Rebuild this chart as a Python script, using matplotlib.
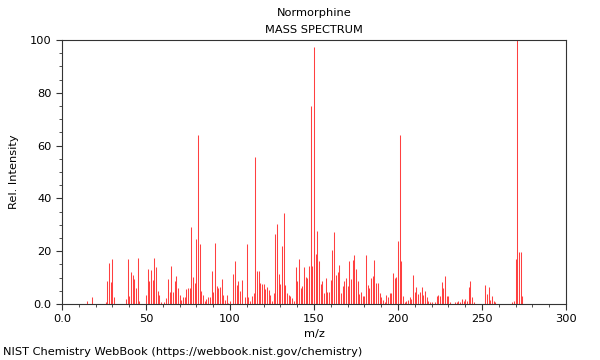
import matplotlib
matplotlib.use("Agg")
import matplotlib.pyplot as plt
from matplotlib.ticker import MultipleLocator

# m/z and relative intensity
mz = [15, 18, 26, 27, 28, 29, 30, 31,
      38, 39, 40, 41, 42, 43, 44, 45, 46,
      50, 51, 52, 53, 54, 55, 56, 57, 58, 59,
      61, 62, 63, 64, 65, 66, 67, 68, 69, 70,
      71, 72, 73, 74, 75, 76, 77, 78, 79, 80,
      81, 82, 83, 84, 85, 86, 87, 88, 89, 90,
      91, 92, 93, 94, 95, 96, 97, 98, 99, 100,
      102, 103, 104, 105, 106, 107, 109, 110, 111, 112,
      113, 114, 115, 116, 117, 118, 119, 120, 121, 122,
      123, 124, 125, 126, 127, 128, 129, 130, 131, 132,
      133, 134, 135, 136, 137, 138, 139, 140, 141, 142,
      143, 144, 145, 146, 147, 148, 149, 150, 151, 152,
      153, 154, 155, 156, 157, 158, 159, 160, 161, 162,
      163, 164, 165, 166, 167, 168, 169, 170, 171, 172,
      173, 174, 175, 176, 177, 178, 179, 180, 181, 182,
      183, 184, 185, 186, 187, 188, 189, 190, 191, 192,
      193, 194, 195, 196, 197, 198, 199, 200, 201, 202,
      203, 204, 205, 206, 207, 208, 209, 210, 211, 212,
      213, 214, 215, 216, 217, 218, 219, 220, 222, 223,
      224, 225, 226, 227, 228, 229, 230, 231, 234, 235,
      236, 237, 238, 239, 240, 241, 242, 243, 244, 245,
      252, 253, 254, 255, 256, 257, 258,
      268, 269, 270, 271, 272, 273, 274]
intensity = [1.0, 2.8, 0.6, 8.8, 15.7, 8.5, 17.0, 2.5,
             1.8, 17.2, 2.9, 12.2, 11.1, 9.5, 6.2, 17.5, 1.3,
             3.4, 13.3, 8.6, 13.0, 9.0, 17.5, 14.1, 5.0, 3.4, 0.6,
             0.6, 2.1, 9.5, 4.7, 14.5, 4.4, 8.8, 10.6, 5.9, 3.5,
             1.5, 2.5, 2.5, 5.6, 6.0, 6.2, 29.0, 10.4, 8.1, 24.5,
             63.9, 22.7, 5.0, 3.5, 1.0, 1.8, 2.5, 2.5, 12.4, 4.4,
             23.1, 6.8, 5.9, 6.3, 9.5, 3.3, 1.5, 3.3, 0.5, 1.3,
             11.4, 16.4, 7.2, 8.6, 5.0, 9.2, 2.5, 22.7, 2.5, 1.3,
             2.9, 4.3, 55.8, 12.6, 12.4, 7.8, 7.6, 7.6, 5.7, 6.3,
             5.3, 3.4, 1.3, 4.2, 26.5, 30.3, 11.4, 7.6, 22.1, 34.3,
             7.2, 4.0, 3.4, 2.9, 2.1, 1.3, 13.9, 8.6, 17.0, 6.0,
             7.0, 14.1, 10.1, 9.7, 14.5, 75.1, 14.5, 97.5, 18.9, 27.8,
             16.4, 7.6, 8.6, 4.3, 9.8, 4.7, 4.7, 9.2, 20.5, 27.4,
             11.0, 12.2, 14.8, 4.3, 6.9, 8.8, 9.8, 6.9, 16.2, 9.5,
             16.7, 18.7, 13.3, 8.6, 3.8, 4.5, 3.0, 3.2, 18.6, 7.3,
             5.9, 10.0, 10.7, 16.7, 7.8, 7.8, 4.3, 2.5, 1.5, 0.6,
             3.5, 2.5, 4.3, 4.3, 11.7, 9.7, 10.4, 23.7, 64.0, 16.2,
             3.0, 0.6, 1.0, 1.5, 2.8, 1.8, 11.0, 4.7, 6.3, 3.8,
             4.4, 6.6, 3.5, 5.0, 2.8, 1.3, 0.6, 0.6, 0.6, 2.9,
             3.5, 3.2, 8.5, 5.9, 10.7, 3.2, 3.0, 0.6, 0.6, 0.6,
             1.3, 0.6, 1.9, 1.0, 1.9, 1.3, 6.3, 8.8, 2.5, 0.6,
             7.3, 3.8, 6.6, 1.5, 3.0, 1.0, 0.6,
             0.6, 1.3, 16.9, 100.0, 19.6, 19.6, 3.2]

fig = plt.figure(figsize=(6, 3.6), dpi=100)
ax = fig.add_axes([62/600, 1-304/360, 504/600, 264/360])

ax.vlines(mz, 0, intensity, color="#ff4040", linewidth=0.75)

ax.set_xlim(0, 300)
ax.set_ylim(0, 100)
ax.xaxis.set_minor_locator(MultipleLocator(10))
ax.yaxis.set_minor_locator(MultipleLocator(5))
ax.set_xticks([0, 50, 100, 150, 200, 250, 300])
ax.set_xticklabels(["0.0", "50", "100", "150", "200", "250", "300"])
ax.set_yticks([0, 20, 40, 60, 80, 100])
ax.set_yticklabels(["0.0", "20", "40", "60", "80", "100"])
ax.tick_params(which="major", length=4, width=0.8, labelsize=8.2, color="#333333")
ax.tick_params(which="minor", length=2, width=0.6, color="#333333")
for s in ax.spines.values():
    s.set_linewidth(0.8)
    s.set_color("#333333")

ax.set_xlabel("m/z", fontsize=8.2, labelpad=3)
ax.set_ylabel("Rel. Intensity", fontsize=8.2, labelpad=8)

fig.text(314/600, 1-13/360, "Normorphine", ha="center", va="center", fontsize=8.2)
fig.text(314/600, 1-30/360, "MASS SPECTRUM", ha="center", va="center", fontsize=8.2)
fig.text(3/600, 1-352/360, "NIST Chemistry WebBook (https://webbook.nist.gov/chemistry)",
         ha="left", va="center", fontsize=8.2)

fig.savefig("out.png", dpi=100)
